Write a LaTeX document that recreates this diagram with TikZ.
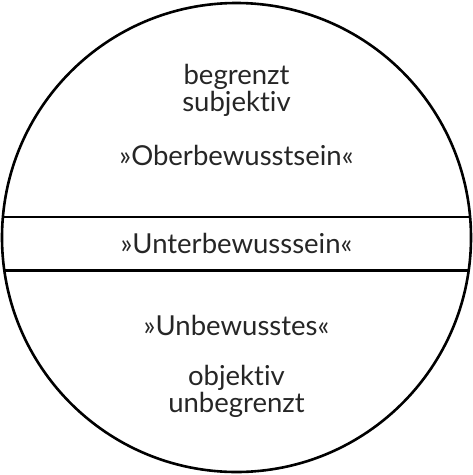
\documentclass[tikz,border=0pt]{standalone}
\usepackage{fontspec}
\setmainfont{Lato}[Ligatures={NoCommon,NoRare}]
\usetikzlibrary{positioning}

\begin{document}
\begin{tikzpicture}[x=1pt,y=-1pt]

\def\radius{234.5}
\def\lineTop{217}
\def\lineBot{270.5}

\tikzstyle{label}=[text=black!85,font=\fontsize{27.5}{27}\selectfont,inner sep=0pt,align=center]
\tikzstyle{border}=[line width=2.6pt,black]

\useasboundingbox (0,0) rectangle (473,475);

%Circle
\coordinate (c) at (236.5,237.5);
\draw[border] (c) circle[radius=\radius];

%dividing lines
\coordinate (topL) at (3,\lineTop);
\coordinate (topR) at (470,\lineTop);
\coordinate (botL) at (3,\lineBot);
\coordinate (botR) at (470,\lineBot);
\draw[border] (topL) -- (topR);
\draw[border] (botL) -- (botR);

\node[label] (upper) at (236.5,90) {begrenzt\\subjektiv};
\node[label] (ober) at (236.5,155) {»Oberbewusstsein«};
\node[label] (unter) at (236.5,243) {»Unterbewusssein«};
\node[label] (unbew) at (236.5,325) {»Unbewusstes«};
\node[label] (lower) at (236.5,391) {objektiv\\unbegrenzt};

\end{tikzpicture}
\end{document}
